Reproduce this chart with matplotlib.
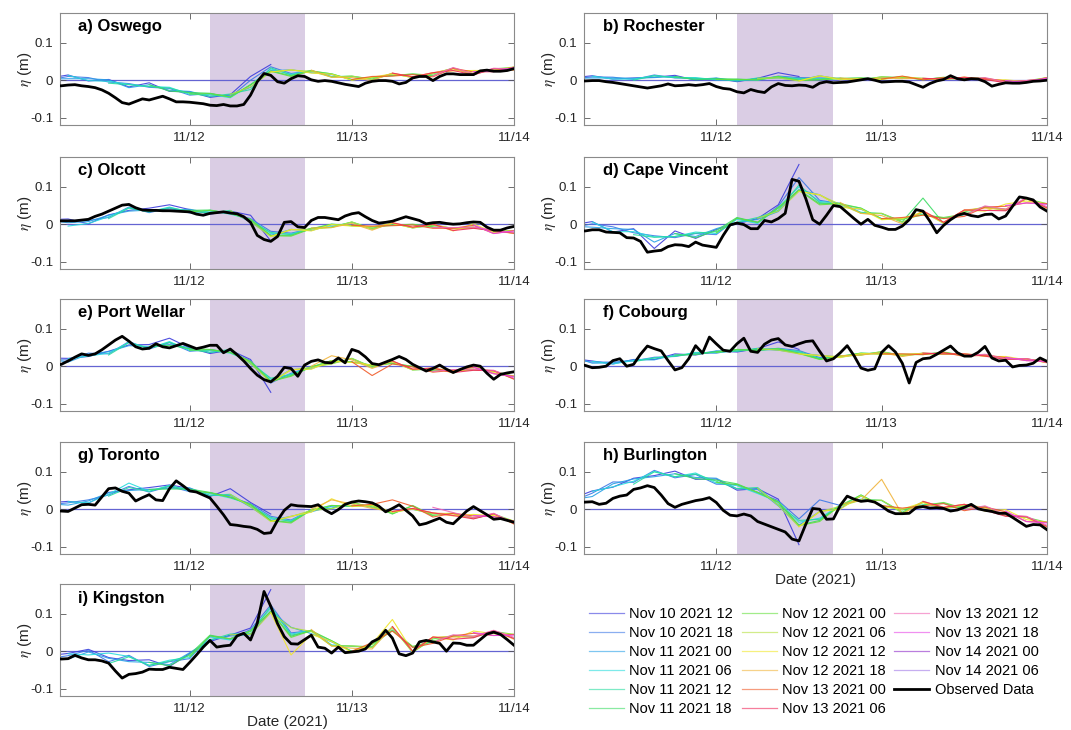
import numpy as np
import matplotlib
matplotlib.use('Agg')
import matplotlib.pyplot as plt
from matplotlib.lines import Line2D

plt.rcParams['font.family'] = ['Liberation Sans', 'DejaVu Sans']
plt.rcParams['mathtext.fontset'] = 'stix'

# time axis: hours counted from 11/11/2021 00:00
X_LIMITS = (4.8, 72)
X_TICKS = [24, 48, 72]
X_TICK_LABELS = ['11/12', '11/13', '11/14']
Y_LIMITS = (-0.12, 0.18)
Y_TICKS = [-0.1, 0, 0.1]
Y_TICK_LABELS = ['-0.1', '0', '0.1']
SHADE_HOURS = (27, 41)

OBS_FIRST_HOUR = 4      # observed: hourly values from this hour on
FC_STEP = 3             # forecasts: one value every 3 h
FC_FIRST_HOUR = 3

FORECAST_NAMES = ['Nov 10 2021 12', 'Nov 10 2021 18', 'Nov 11 2021 00', 'Nov 11 2021 06',
                  'Nov 11 2021 12', 'Nov 11 2021 18', 'Nov 12 2021 00', 'Nov 12 2021 06',
                  'Nov 12 2021 12', 'Nov 12 2021 18', 'Nov 13 2021 00', 'Nov 13 2021 06',
                  'Nov 13 2021 12', 'Nov 13 2021 18', 'Nov 14 2021 00', 'Nov 14 2021 06']
FORECAST_ISSUE_HOURS = [-12, -6, 0, 6, 12, 18, 24, 30, 36, 42, 48, 54, 60, 66, 72, 78]
FORECAST_COLORS = ['#3c3cdc', '#3c78e6', '#28a0e6', '#28dcdc', '#28dca0', '#3cdc64',
                   '#64e03c', '#b4e03c', '#f0e628', '#f0b43c', '#f05a28', '#f0285a',
                   '#f064b4', '#e646e6', '#8c28c8', '#a078e6']

PANEL_TITLES = ['a) Oswego', 'b) Rochester', 'c) Olcott', 'd) Cape Vincent', 'e) Port Wellar',
                'f) Cobourg', 'g) Toronto', 'h) Burlington', 'i) Kingston']

# water level anomalies in mm
OBS_OSWEGO = [-15, -15, -13, -12, -15, -17, -20, -26, -35, -47, -60, -64, -57, -50, -53, -48, -43, -50, -58, -58, -59,
              -61, -63, -67, -68, -65, -69, -69, -65, -40, -4, 18, 13, -4, -8, 4, 12, 10, 1, -3, -1,
              -3, -7, -11, -14, -17, -8, -3, -1, -1, -3, -10, -6, 6, 10, 10, -1, 10, 17, 17, 15, 15, 15, 25, 27, 24, 24, 26, 31]
OBS_ROCHESTER = [-2, -2, -1, -1, -4, -6, -9, -12, -15, -18, -21, -18, -15, -10, -15, -14, -12, -14, -12, -9, -17,
                 -22, -24, -31, -34, -25, -30, -33, -18, -9, -14, -15, -13, -14, -19, -8, -4, -7, -6, -5, -2,
                 1, 4, 0, -5, -4, -3, -3, -5, -12, -19, -9, -2, 2, 12, 4, 1, 4, 3, -4, -16, -11, -7, -8, -8, -6, -3, -2, 0]
OBS_OLCOTT = [9, 9, 9, 9, 11, 13, 21, 27, 35, 43, 51, 53, 44, 38, 37, 37, 36, 36, 35, 34, 33,
              27, 24, 29, 31, 33, 30, 28, 20, 5, -30, -41, -46, -33, 5, 7, -7, -9, 10, 18, 18,
              15, 12, 22, 28, 31, 20, 10, 3, 5, 8, 14, 20, 15, 10, 1, 4, 5, 2, 0, 1, 4, 6, 5, -8, -16, -16, -10, -6]
OBS_CAPE_VINCENT = [-18, -18, -15, -15, -21, -22, -23, -36, -37, -46, -75, -72, -70, -60, -55, -56, -60, -48, -56, -59, -62,
                    -30, -2, 3, -1, -12, -12, 10, 6, 15, 29, 120, 115, 68, 12, 0, 24, 50, 47, 31, 15,
                    0, 13, -3, -8, -14, -14, -5, 12, 39, 35, 8, -23, -3, 12, 24, 29, 23, 20, 26, 27, 14, 22, 48, 73, 70, 65, 46, 35]
OBS_PORT_WELLAR = [2, 5, 14, 24, 33, 29, 33, 44, 57, 70, 80, 67, 52, 46, 48, 60, 52, 49, 55, 61, 54,
                   47, 51, 56, 56, 36, 46, 31, 14, -6, -24, -36, -42, -27, -3, -6, -27, 3, 13, 17, 10,
                   9, 22, 9, 45, 39, 25, 7, 4, 11, 18, 26, 18, 5, -4, -13, -6, 3, -8, -17, -9, -2, 3, 0, -19, -35, -22, -18, -15]
OBS_COBOURG = [5, 2, -4, -3, 0, 15, 20, 0, 5, 32, 54, 47, 41, 15, -10, -4, 20, 55, 35, 78, 60,
               43, 40, 60, 75, 40, 37, 59, 70, 74, 57, 53, 60, 66, 68, 40, 14, 20, 36, 55, 28,
               -5, -11, -7, 37, 55, 38, 8, -45, 10, 20, 22, 32, 43, 54, 36, 27, 27, 37, 53, 22, 14, 16, -2, 2, 3, 8, 22, 13]
OBS_TORONTO = [-4, -5, -6, 3, 12, 13, 11, 33, 55, 57, 48, 43, 22, 31, 39, 25, 23, 55, 76, 63, 49,
               46, 38, 30, 8, -15, -41, -43, -46, -48, -54, -65, -63, -30, -3, 12, 9, 8, 7, 12, -2,
               -12, -1, 13, 19, 22, 20, 17, 8, -7, 2, 12, -3, -18, -42, -38, -31, -24, -35, -39, -22, -5, 7, -4, -15, -27, -25, -30, -35]
OBS_BURLINGTON = [18, 19, 20, 13, 16, 29, 35, 38, 53, 57, 63, 58, 38, 15, 5, 13, 18, 23, 26, 31, 18,
                  -3, -16, -18, -13, -18, -33, -40, -47, -54, -61, -80, -85, -40, 2, 0, -27, -26, 10, 35, 27,
                  21, 23, 19, 8, -5, -12, -12, -11, 4, 7, 3, 4, 2, -5, -2, 5, 13, 1, -3, -6, -11, -11, -22, -34, -46, -41, -42, -55]
OBS_KINGSTON = [-18, -21, -20, -11, -18, -23, -23, -26, -32, -53, -72, -62, -60, -56, -48, -49, -49, -43, -46, -49, -30,
                -10, 11, 29, 11, 14, 16, 41, 48, 30, 75, 160, 120, 74, 39, 20, 19, 31, 43, 11, 8,
                -5, 11, -4, -2, 0, 6, 25, 34, 56, 35, -7, -12, -5, 25, 29, 25, 21, 0, 22, 21, 16, 16, 31, 46, 51, 45, 31, 16]

# one row per forecast run (Nov 14 00 and 06 fall outside the window)
FC_OSWEGO = [
    [5, 14, -2, 2, -18, -7, -30, -31, -46, -39, 10, 42],
    [0, 10, 7, -5, -9, -19, -22, -40, -36, -45, 0, 36, 18, 25],
    [3, 4, 4, 1, -20, -12, -27, -30, -43, -40, -19, 25, 28, 20, 15, 2],
    [13, -1, -3, -11, -17, -19, -38, -38, -47, -12, 30, 16, 26, 10, 10, 2, 17],
    [-8, -12, -17, -21, -35, -43, -37, -25, 33, 14, 24, 17, 1, 8, 13, 16, 12],
    [-12, -29, -33, -35, -45, -13, 25, 12, 26, 9, 11, 3, 18, 7, 17, 32, 17],
    [-37, -36, -45, -12, 24, 10, 25, 17, 1, 7, 12, 17, 13, 32, 15, 30, 35],
    [-38, -18, 22, 27, 24, 8, 11, 2, 17, 7, 18, 32, 17, 30, 28],
    [22, 28, 19, 16, 0, 8, 17, 8, 20, 25, 26, 26, 35],
    [27, 8, 7, -1, 19, 9, 20, 30, 16, 31, 27],
    [2, 10, 11, 15, 9, 32, 22, 23, 35],
    [19, 9, 20, 26, 14, 31, 28],
    [11, 34, 17, 32, 30],
    [23, 23, 34],
]
FC_ROCHESTER = [
    [6, 12, 3, 6, 8, 13, 0, 5, -4, 5, 20, 10],
    [3, 9, 8, 2, 14, 6, 5, 0, 2, 1, 11, 7, 6, 5],
    [5, 6, 6, 5, 7, 10, 2, 6, -2, 4, 6, 0, 12, 2, 5, 3],
    [11, 3, 3, 12, 7, 7, 1, 1, 0, 10, 3, 4, 5, 2, 8, 6, 4],
    [0, 12, 7, 5, 3, -2, 6, 7, 5, 3, 4, 6, 3, 10, 2, 7, 3],
    [10, 1, 4, 3, 1, 9, 0, 2, 5, 1, 9, 7, 5, 2, 6, 5, -5],
    [2, 2, 1, 10, -1, 1, 5, 6, 3, 9, 1, 8, 4, 5, -6, -2, 7],
    [5, 6, -2, 11, 4, 1, 9, 6, 4, 2, 7, 5, -5, -2, 3],
    [-2, 12, 1, 5, 2, 10, 4, 3, 8, 1, 1, -4, 7],
    [6, 1, 6, 4, 5, 3, 8, 4, -5, -1, 2],
    [3, 11, 1, 7, 1, 5, -2, -6, 7],
    [5, 3, 8, 2, -7, -1, 3],
    [3, 7, -5, -1, 4],
    [-1, -6, 6],
]
FC_OLCOTT = [
    [12, 14, 1, 25, 37, 43, 52, 39, 27, 35, 24, -45],
    [7, 10, 10, 18, 46, 31, 43, 30, 37, 29, 15, -19, -24, -12],
    [10, 4, 7, 24, 35, 38, 38, 40, 30, 34, 6, -30, -14, -17, -2, -3],
    [-5, 2, 20, 44, 33, 46, 32, 35, 27, 13, -25, -26, -11, -7, 5, -13, 2],
    [15, 43, 33, 44, 35, 30, 37, 8, -22, -28, -13, 0, -4, -7, -2, -1, -8],
    [38, 36, 37, 38, 29, 12, -30, -30, -11, -8, 6, -12, 3, -10, -3, -11, -8],
    [33, 37, 29, 13, -31, -32, -12, 0, -4, -8, -3, 0, -7, -11, -10, -18, -17],
    [36, 7, -33, -15, -13, -9, 6, -13, 2, -10, -2, -11, -8, -18, -24],
    [-33, -14, -18, -1, -5, -7, 2, -9, 0, -18, 1, -22, -17],
    [-10, -9, 2, -16, 4, -8, 0, -13, -9, -17, -25],
    [-3, -5, -4, -2, -11, -11, -3, -25, -17],
    [4, -8, 0, -17, -11, -17, -24],
    [-9, -9, -8, -16, -22],
    [-2, -25, -18],
]
FC_CAPE_VINCENT = [
    [-2, 7, -21, -12, -65, -18, -38, -14, 1, 15, 52, 160],
    [-10, 1, -7, -23, -31, -36, -25, -28, 16, 5, 48, 125, 64, 55],
    [-5, -8, -12, -14, -48, -25, -33, -12, 5, 13, 34, 92, 79, 47, 40, 15],
    [6, -20, -20, -34, -33, -21, -25, 13, 2, 45, 100, 61, 56, 32, 28, 5, 33],
    [-28, -35, -33, -24, -20, 5, 18, 37, 105, 58, 53, 43, 14, 15, 27, 16, 25],
    [-25, -36, -17, 18, 5, 43, 92, 55, 56, 30, 29, 7, 70, 2, 33, 46, 40],
    [-23, 16, 5, 45, 91, 52, 55, 43, 14, 13, 25, 18, 27, 46, 37, 68, 55],
    [16, 35, 88, 78, 53, 29, 29, 5, 33, 2, 35, 46, 40, 68, 44],
    [88, 79, 45, 41, 12, 15, 33, 4, 38, 35, 54, 62, 55],
    [58, 29, 23, 1, 36, 5, 38, 43, 39, 70, 42],
    [15, 18, 24, 15, 21, 46, 48, 57, 55],
    [36, 5, 38, 37, 36, 70, 44],
    [24, 49, 40, 71, 47],
    [50, 57, 53],
]
FC_PORT_WELLAR = [
    [22, 21, 26, 40, 57, 58, 75, 49, 34, 43, 18, -70],
    [17, 17, 35, 33, 66, 46, 63, 40, 44, 37, 15, -45, -19, -2],
    [20, 11, 32, 39, 55, 53, 58, 50, 37, 42, 6, -40, -9, -7, 13, 12],
    [20, 27, 35, 64, 48, 66, 42, 42, 35, 13, -35, -21, -1, 8, 20, -3, 12],
    [30, 63, 48, 64, 45, 37, 45, 8, -32, -23, -3, 15, 11, 3, 8, -1, -13],
    [53, 56, 47, 45, 37, 12, -40, -25, -1, 7, 21, -2, 13, -10, -8, -11, -8],
    [43, 44, 37, 13, -41, -27, -2, 15, 11, 2, 7, 0, -12, -11, -10, -13, -27],
    [44, 7, -43, -10, -3, 6, 21, -3, 12, -10, -7, -11, -8, -13, -34],
    [-43, -9, -8, 14, 10, 3, 12, -9, -5, -18, 1, -17, -27],
    [0, 28, 17, -6, 14, -8, -5, -13, -9, -12, -35],
    [12, -25, 6, -2, -16, -11, -3, -20, -27],
    [14, -8, -5, -17, -11, -12, -34],
    [-14, -9, -8, -11, -32],
    [-2, -20, -28],
]
FC_COBOURG = [
    [21, 14, 6, 18, 18, 33, 30, 40, 38, 47, 65, 45],
    [18, 11, 11, 14, 24, 26, 35, 35, 44, 43, 48, 42, 23, 27],
    [27, 8, 9, 17, 17, 30, 32, 41, 40, 46, 43, 35, 29, 24, 34, 33],
    [13, 6, 15, 22, 27, 37, 36, 43, 42, 47, 38, 21, 27, 31, 38, 28, 34],
    [12, 22, 27, 35, 38, 40, 48, 44, 40, 20, 26, 35, 33, 32, 32, 37, 28],
    [30, 31, 39, 45, 43, 46, 35, 19, 27, 30, 39, 29, 35, 32, 31, 30, 20],
    [37, 44, 43, 47, 34, 18, 27, 35, 33, 31, 31, 38, 29, 30, 19, 19, 14],
    [47, 43, 33, 28, 26, 30, 39, 28, 34, 32, 32, 30, 20, 19, 10],
    [33, 29, 23, 34, 32, 32, 34, 33, 33, 26, 26, 17, 14],
    [28, 30, 36, 26, 35, 33, 33, 29, 20, 20, 9],
    [33, 33, 31, 37, 26, 30, 23, 15, 14],
    [35, 33, 33, 27, 18, 20, 10],
    [28, 32, 20, 20, 11],
    [24, 15, 13],
]
FC_TORONTO = [
    [17, 21, 16, 45, 52, 58, 65, 56, 34, 55, 18, -13],
    [12, 17, 25, 38, 61, 46, 61, 47, 44, 32, 15, -19, -29, -2],
    [15, 11, 22, 44, 50, 53, 56, 57, 37, 37, 6, -30, -19, -7, 8, 9],
    [20, 17, 40, 70, 48, 64, 49, 42, 30, 13, -25, -31, -1, 3, 17, 5, -8],
    [35, 58, 48, 62, 52, 37, 40, 8, -22, -33, -3, 10, 8, 11, -12, 9, -18],
    [53, 54, 54, 45, 32, 12, -30, -35, -1, 2, 18, 6, -7, 0, -13, -11, -23],
    [50, 44, 32, 13, -31, -37, -2, 10, 8, 10, -13, 10, -17, -11, -25, -13, -32],
    [39, 7, -33, -20, -3, 1, 18, 5, -8, 0, -12, -11, -23, -13, -39],
    [-33, -19, -8, 28, 7, 11, -8, 1, -10, -18, -14, -17, -32],
    [0, 25, 14, 2, -6, 2, -10, -13, -24, -12, -40],
    [9, 13, 25, 8, -21, -11, -18, -20, -32],
    [-6, 2, -10, -17, -26, -12, -39],
    [5, -9, -23, -11, -37],
    [-17, -20, -33],
]
FC_BURLINGTON = [
    [28, 49, 59, 83, 90, 102, 80, 81, 51, 55, 27, -95],
    [20, 43, 73, 72, 104, 84, 93, 67, 66, 45, 23, -26, 25, 10],
    [25, 34, 68, 81, 87, 95, 85, 83, 55, 53, 9, -43, -6, 2, 35, 10],
    [48, 60, 75, 101, 87, 97, 70, 63, 42, 20, -35, -24, 11, 27, 23, -10, 18],
    [67, 100, 87, 94, 75, 55, 58, 12, -30, -27, 8, 38, 9, 0, 12, 16, 0],
    [95, 82, 78, 68, 45, 18, -43, -30, 11, 25, 24, -8, 20, 2, 8, 6, -15],
    [72, 66, 45, 20, -44, -33, 10, 38, 9, -2, 10, 18, 2, 6, -18, -22, -35],
    [56, 10, -47, -7, 8, 24, 24, -10, 18, 2, 10, 6, -15, -22, -46],
    [-47, -6, 0, 36, 7, 0, 18, 4, 13, -5, -1, -28, -35],
    [13, 24, 80, -14, 21, 5, 13, 3, -16, -20, -48],
    [10, 3, 9, 15, -4, 6, -7, -33, -35],
    [21, 5, 13, -3, -19, -20, -46],
    [-1, 9, -15, -19, -43],
    [-5, -33, -37],
]
FC_KINGSTON = [
    [-12, -6, 5, -17, -25, -23, -41, -6, 26, 43, 62, 165],
    [-20, -12, 3, -28, -11, -41, -28, -20, 41, 33, 58, 124, 49, 55],
    [-15, -21, -2, -19, -28, -30, -36, -4, 30, 41, 44, 107, 64, 47, 25, 0],
    [-7, -10, -5, -14, -38, -24, -17, 38, 30, 55, 115, 46, 56, 17, 13, 10, 63],
    [-33, -15, -38, -27, -12, 30, 46, 47, 120, 43, 53, 28, -1, 20, 57, 11, 25],
    [-30, -39, -9, 43, 33, 53, 107, 40, 56, 15, 14, 12, 65, -3, 33, 41, 40],
    [-15, 41, 33, 55, 106, 37, 55, 28, -1, 18, 55, 13, 27, 41, 37, 53, 45],
    [44, 45, 103, 63, 53, 14, 14, 10, 63, -3, 35, 41, 40, 53, 34],
    [103, -10, 45, 26, -3, 20, 85, -1, 38, 30, 54, 47, 45],
    [58, 14, 8, 6, 66, 0, 38, 38, 39, 55, 32],
    [0, 23, 54, 10, 21, 41, 48, 42, 45],
    [66, 0, 38, 32, 36, 55, 34],
    [24, 44, 40, 56, 37],
    [50, 42, 43],
]

OBSERVED = [OBS_OSWEGO, OBS_ROCHESTER, OBS_OLCOTT, OBS_CAPE_VINCENT, OBS_PORT_WELLAR,
            OBS_COBOURG, OBS_TORONTO, OBS_BURLINGTON, OBS_KINGSTON]
FORECASTS = [FC_OSWEGO, FC_ROCHESTER, FC_OLCOTT, FC_CAPE_VINCENT, FC_PORT_WELLAR,
             FC_COBOURG, FC_TORONTO, FC_BURLINGTON, FC_KINGSTON]

FIG_W, FIG_H = 1071, 730
COL_LEFT = [60, 584]
COL_WIDTH = [454, 463]
ROW_TOP = [13, 157, 299, 442, 584]
AX_HEIGHT = 112

SHADE_COLOR = '#dacde4'
ZERO_COLOR = '#6464d2'
FRAME_COLOR = '#8a8a8a'
TEXT_COLOR = '#262626'


def draw_panel(ax, title, observed, forecasts, with_xlabel):
    ax.axvspan(*SHADE_HOURS, color=SHADE_COLOR, lw=0, zorder=0)
    ax.axhline(0, color=ZERO_COLOR, lw=0.9, zorder=1)

    for issue, color, values in zip(FORECAST_ISSUE_HOURS, FORECAST_COLORS, forecasts):
        start = max(issue, FC_FIRST_HOUR)
        hours = start + FC_STEP * np.arange(len(values))
        ax.plot(hours, np.array(values) / 1000, color=color, lw=0.8, alpha=0.9, zorder=2)

    obs_hours = OBS_FIRST_HOUR + np.arange(len(observed))
    ax.plot(obs_hours, np.array(observed) / 1000, color='black', lw=2.0, zorder=3)

    ax.set_xlim(*X_LIMITS)
    ax.set_ylim(*Y_LIMITS)
    ax.set_xticks(X_TICKS)
    ax.set_xticklabels(X_TICK_LABELS)
    ax.set_yticks(Y_TICKS)
    ax.set_yticklabels(Y_TICK_LABELS)
    ax.tick_params(direction='in', top=True, right=True, length=4, width=0.6,
                   color='#555555', labelsize=9.6, labelcolor=TEXT_COLOR, pad=5)
    for spine in ax.spines.values():
        spine.set_color(FRAME_COLOR)
        spine.set_linewidth(0.8)

    ax.set_ylabel(r'$\eta$ (m)', fontsize=11, color=TEXT_COLOR, labelpad=-3)
    if with_xlabel:
        ax.set_xlabel('Date (2021)', fontsize=11, color=TEXT_COLOR, labelpad=0)

    ax.text(0.04, 0.875, title, transform=ax.transAxes, fontsize=12,
            fontweight='bold', va='center', ha='left', color='black', zorder=4)


def main():
    fig = plt.figure(figsize=(FIG_W / 100, FIG_H / 100), dpi=100)

    for k, (title, observed, forecasts) in enumerate(zip(PANEL_TITLES, OBSERVED, FORECASTS)):
        row, col = divmod(k, 2)
        rect = [COL_LEFT[col] / FIG_W,
                1 - (ROW_TOP[row] + AX_HEIGHT) / FIG_H,
                COL_WIDTH[col] / FIG_W,
                AX_HEIGHT / FIG_H]
        ax = fig.add_axes(rect)
        draw_panel(ax, title, observed, forecasts, with_xlabel=k >= 7)

    handles = [Line2D([], [], color=c, lw=0.9, alpha=0.6) for c in FORECAST_COLORS]
    handles.append(Line2D([], [], color='black', lw=2.0))
    labels = FORECAST_NAMES + ['Observed Data']
    fig.legend(handles, labels, ncol=3, loc='upper left',
               bbox_to_anchor=(576 / FIG_W, 1 - 594 / FIG_H), frameon=False,
               fontsize=10.5, handlelength=2.4, handletextpad=0.35,
               columnspacing=0.6, labelspacing=0.34, borderpad=0.4)

    fig.savefig('out.png', dpi=100)


if __name__ == '__main__':
    main()
